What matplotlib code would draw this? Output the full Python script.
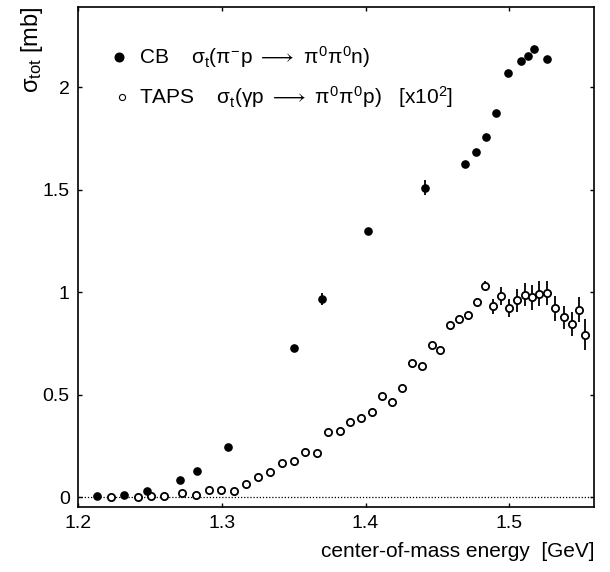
import matplotlib.pyplot as plt

plt.rcParams['font.family'] = ['Liberation Sans', 'DejaVu Sans']
plt.rcParams['mathtext.fontset'] = 'custom'
plt.rcParams['mathtext.rm'] = 'Liberation Sans'
plt.rcParams['mathtext.it'] = 'Liberation Sans'
plt.rcParams['mathtext.fallback'] = 'stixsans'

# Crystal Ball: sigma_t(pi- p -> pi0 pi0 n)
cb_energy = [1.213, 1.232, 1.248, 1.271, 1.283, 1.304, 1.350, 1.370, 1.402, 1.441,
             1.469, 1.477, 1.484, 1.491, 1.499, 1.508, 1.513, 1.517, 1.526]
cb_sigma = [0.004, 0.009, 0.028, 0.082, 0.130, 0.245, 0.729, 0.967, 1.300, 1.511,
            1.627, 1.687, 1.759, 1.877, 2.071, 2.128, 2.154, 2.189, 2.140]
cb_err = [0.005, 0.005, 0.005, 0.006, 0.008, 0.008, 0.010, 0.030, 0.010, 0.036,
          0.010, 0.010, 0.010, 0.010, 0.010, 0.010, 0.010, 0.010, 0.010]

# TAPS: sigma_t(gamma p -> pi0 pi0 p) x 10^2
taps_energy = [1.2228, 1.2416, 1.2509, 1.2600, 1.2723, 1.2819, 1.2909, 1.2995, 1.3082, 1.3167,
               1.3251, 1.3337, 1.3421, 1.3500, 1.3581, 1.3662, 1.3742, 1.3819, 1.3893, 1.3969,
               1.4043, 1.4115, 1.4187, 1.4255, 1.4325, 1.4393, 1.4459, 1.4521, 1.4588, 1.4651,
               1.4714, 1.4775, 1.4833, 1.4888, 1.4944, 1.5000, 1.5054, 1.5107, 1.5158, 1.5209,
               1.5261, 1.5317, 1.5377, 1.5433, 1.5484, 1.5523]
taps_sigma = [0.001, 0.001, 0.004, 0.007, 0.020, 0.012, 0.037, 0.033, 0.032, 0.063,
              0.098, 0.124, 0.165, 0.176, 0.219, 0.215, 0.316, 0.321, 0.369, 0.385,
              0.415, 0.492, 0.463, 0.533, 0.657, 0.642, 0.742, 0.717, 0.838, 0.871,
              0.890, 0.952, 1.032, 0.931, 0.983, 0.923, 0.960, 0.988, 0.975, 0.993,
              0.996, 0.921, 0.877, 0.846, 0.915, 0.793]
taps_err = [0.003, 0.003, 0.003, 0.003, 0.004, 0.004, 0.004, 0.004, 0.004, 0.005,
            0.005, 0.006, 0.006, 0.006, 0.007, 0.007, 0.008, 0.008, 0.009, 0.009,
            0.010, 0.010, 0.011, 0.011, 0.012, 0.012, 0.013, 0.013, 0.014, 0.015,
            0.016, 0.018, 0.022, 0.035, 0.045, 0.045, 0.055, 0.055, 0.060, 0.060,
            0.060, 0.059, 0.057, 0.057, 0.062, 0.075]

xticks = [1.2, 1.3, 1.4, 1.5]
yticks = [0, 0.5, 1, 1.5, 2]
ytick_labels = ['0', '0.5', '1', '1.5', '2']

fig = plt.figure(figsize=(6.10, 5.72), dpi=100)
ax = fig.add_axes([0.128, 0.114, 0.846, 0.874])

ax.axhline(0, color='black', linestyle=(0, (1, 1.5)), linewidth=0.9, zorder=1)

ax.errorbar(taps_energy, taps_sigma, yerr=taps_err, fmt='o', color='black',
            markerfacecolor='white', markeredgecolor='black', markersize=5.2,
            markeredgewidth=1.3, elinewidth=1.3, capsize=0, zorder=3)
ax.errorbar(cb_energy, cb_sigma, yerr=cb_err, fmt='o', color='black',
            markersize=5.2, elinewidth=1.3, capsize=0, zorder=4)

# legend drawn as text, like the original
ax.plot([1.2285], [2.148], 'o', color='black', markersize=6.2)
ax.plot([1.2305], [1.953], 'o', color='black', markerfacecolor='white',
        markersize=4.4, markeredgewidth=0.8)
ax.text(1.2425, 2.148,
        r'CB    $\sigma_{\rm t}(\pi^{-}$p$\ \longrightarrow\ \pi^{0}\pi^{0}$n$)$',
        fontsize=15, va='center', ha='left')
ax.text(1.2425, 1.953,
        r'TAPS    $\sigma_{\rm t}(\gamma$p$\ \longrightarrow\ \pi^{0}\pi^{0}$p$)$   [x10$^2$]',
        fontsize=15, va='center', ha='left')

ax.set_xlim(1.2, 1.559)
ax.set_ylim(-0.047, 2.393)
ax.set_xticks(xticks)
ax.set_xticklabels([f'{t:.1f}' for t in xticks])
ax.set_yticks(yticks)
ax.set_yticklabels(ytick_labels)
ax.tick_params(direction='in', length=3, width=1, top=True, right=True,
               labelsize=14, pad=6)
for s in ax.spines.values():
    s.set_linewidth(1.2)

ax.set_xlabel('center-of-mass energy  [GeV]', fontsize=15, loc='right', labelpad=7)
ax.set_ylabel(r'$\sigma_{\rm tot}$ [mb]', fontsize=17, loc='top', labelpad=-2)

plt.savefig('out.png', dpi=100)
